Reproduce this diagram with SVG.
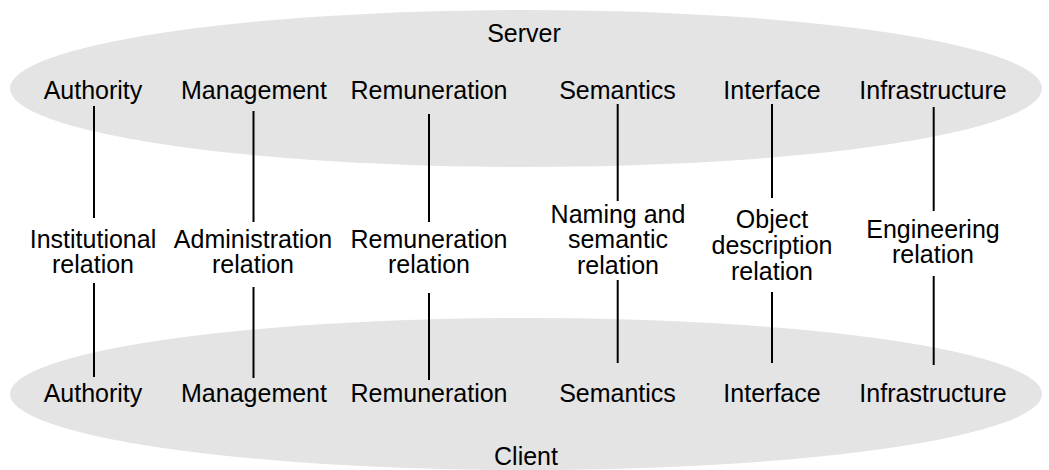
<svg xmlns="http://www.w3.org/2000/svg" width="1049" height="470" viewBox="0 0 1049 470">
<style>
.bg{fill:#e4e4e4;stroke:none}
text{font-family:"Liberation Sans",Arial,sans-serif;font-size:25px;fill:#000;text-anchor:middle}
.ln{stroke:#000;stroke-width:2;fill:none}
</style>
<rect width="1049" height="470" fill="#fff"/>
<g id="server">
<ellipse class="bg" cx="526" cy="88.5" rx="516" ry="78.5"/>
<text x="524" y="42">Server</text>
</g>
<g id="client">
<ellipse class="bg" cx="526" cy="394" rx="516" ry="76"/>
<text x="526" y="465">Client</text>
</g>
<g id="server-labels">
<text x="93" y="99">Authority</text>
<text x="254" y="99">Management</text>
<text x="429" y="99">Remuneration</text>
<text x="617.5" y="99">Semantics</text>
<text x="772" y="99">Interface</text>
<text x="933" y="99">Infrastructure</text>
</g>
<g id="relations">
<text x="93" y="248">Institutional</text>
<text x="93" y="273">relation</text>
<text x="253" y="248">Administration</text>
<text x="253" y="273">relation</text>
<text x="429" y="248">Remuneration</text>
<text x="429" y="273">relation</text>
<text x="618" y="223">Naming and</text>
<text x="618" y="248">semantic</text>
<text x="618" y="273.5">relation</text>
<text x="772" y="228">Object</text>
<text x="772" y="254">description</text>
<text x="772" y="280">relation</text>
<text x="933" y="238">Engineering</text>
<text x="933" y="263">relation</text>
</g>
<g id="client-labels">
<text x="93" y="402">Authority</text>
<text x="254" y="402">Management</text>
<text x="429" y="402">Remuneration</text>
<text x="617.5" y="402">Semantics</text>
<text x="772" y="402">Interface</text>
<text x="933" y="402">Infrastructure</text>
</g>
<g id="connectors">
<line class="ln" x1="94" y1="106" x2="94" y2="218"/>
<line class="ln" x1="253.5" y1="111" x2="253.5" y2="222"/>
<line class="ln" x1="429" y1="114" x2="429" y2="222"/>
<line class="ln" x1="617.7" y1="104" x2="617.7" y2="201"/>
<line class="ln" x1="772" y1="104" x2="772" y2="198"/>
<line class="ln" x1="933.7" y1="107" x2="933.7" y2="211"/>
<line class="ln" x1="94" y1="283" x2="94" y2="377"/>
<line class="ln" x1="253.5" y1="287" x2="253.5" y2="378"/>
<line class="ln" x1="429" y1="293" x2="429" y2="380"/>
<line class="ln" x1="617.7" y1="280" x2="617.7" y2="363"/>
<line class="ln" x1="772" y1="292" x2="772" y2="363"/>
<line class="ln" x1="933.7" y1="276" x2="933.7" y2="365"/>
</g>
</svg>
